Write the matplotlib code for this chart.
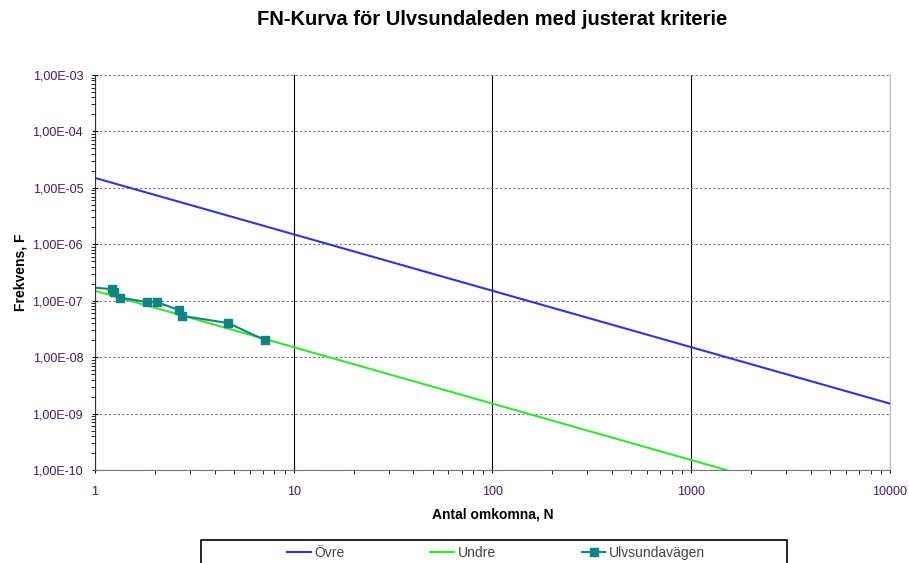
import numpy as np
import matplotlib.pyplot as plt
from matplotlib.patches import Rectangle
from matplotlib.ticker import FixedLocator, LogLocator, NullFormatter, FuncFormatter

plt.rcParams['font.family'] = ['Liberation Sans', 'DejaVu Sans']

# Kriterielinjer (F vid N)
N_ovre = [1, 10000]
F_ovre = [1.5e-5, 1.5e-9]
N_undre = [1, 1500]
F_undre = [1.5e-7, 1.0e-10]

# Ulvsundavägen
N_ulv = [1.0, 1.22, 1.24, 1.34, 1.82, 2.04, 2.65, 2.75, 4.69, 7.17]
F_ulv = [1.7e-7, 1.6e-7, 1.4e-7, 1.13e-7, 9.5e-8, 9.5e-8, 6.8e-8, 5.4e-8, 4.0e-8, 2.0e-8]

fig = plt.figure(figsize=(9.09, 5.63), dpi=100)
ax = fig.add_axes([0.1045, 0.1652, 0.8746, 0.7016])

ax.plot(N_ovre, F_ovre, color='#3333dd', lw=1.5, label='Övre')
ax.plot(N_undre, F_undre, color='#33e833', lw=1.5, label='Undre')
ax.plot(N_ulv, F_ulv, color='#108484', lw=1.5, marker='s', markersize=6,
        markevery=list(range(1, len(N_ulv))), label='Ulvsundavägen')

ax.set_xscale('log')
ax.set_yscale('log')
ax.set_xlim(1, 10000)
ax.set_ylim(1e-10, 1e-3)

tick_col = '#4a1a66'
ax.xaxis.set_major_locator(FixedLocator([1, 10, 100, 1000, 10000]))
ax.xaxis.set_major_formatter(FuncFormatter(lambda v, p: f"{v:.0f}"))
ax.xaxis.set_minor_locator(LogLocator(base=10, subs=np.arange(2, 10)))
ax.xaxis.set_minor_formatter(NullFormatter())

ax.yaxis.set_major_locator(FixedLocator([10.0 ** e for e in range(-10, -2)]))
ax.yaxis.set_major_formatter(FuncFormatter(
    lambda v, p: "1,00E-%02d" % int(round(-np.log10(v)))))
ax.yaxis.set_minor_locator(LogLocator(base=10, subs=np.arange(2, 10)))
ax.yaxis.set_minor_formatter(NullFormatter())

ax.tick_params(axis='both', which='major', labelsize=9, labelcolor=tick_col,
               length=5, direction='inout')
ax.tick_params(axis='x', which='major', pad=9)
ax.tick_params(axis='y', which='major', pad=6)
ax.tick_params(axis='both', which='minor', length=3, direction='out')

# rutnät
ax.grid(axis='y', which='major', color='#777777', linestyle=(0, (2, 2)), lw=0.8)
ax.grid(axis='x', which='major', color='black', linestyle='-', lw=0.8)

ax.spines['right'].set_color('#bbbbbb')
ax.spines['right'].set_linewidth(0.8)
ax.spines['top'].set_visible(False)
ax.spines['left'].set_color('#333333')
ax.spines['bottom'].set_color('#777777')

ax.set_title('FN-Kurva för Ulvsundaleden med justerat kriterie', fontsize=14.5,
             fontweight='bold', pad=36)
ax.set_xlabel('Antal omkomna, N', fontsize=10, fontweight='bold', labelpad=7)
ax.set_ylabel('Frekvens, F', fontsize=10, fontweight='bold', labelpad=4)

# legendram (nedre delen beskärs av bildkanten)
fig.patches.append(Rectangle((0.2211, -0.1), 0.6447, 0.1409, transform=fig.transFigure,
                             fill=False, edgecolor='black', lw=1.2))
leg = fig.legend(loc='center left', bbox_to_anchor=(0.3157, 0.0178), ncol=3,
                 fontsize=10, frameon=False, handlelength=1.7, handletextpad=0.25,
                 columnspacing=6.2, borderpad=0, borderaxespad=0)
for t in leg.get_texts():
    t.set_color('#444444')

fig.savefig('out.png', dpi=100)
